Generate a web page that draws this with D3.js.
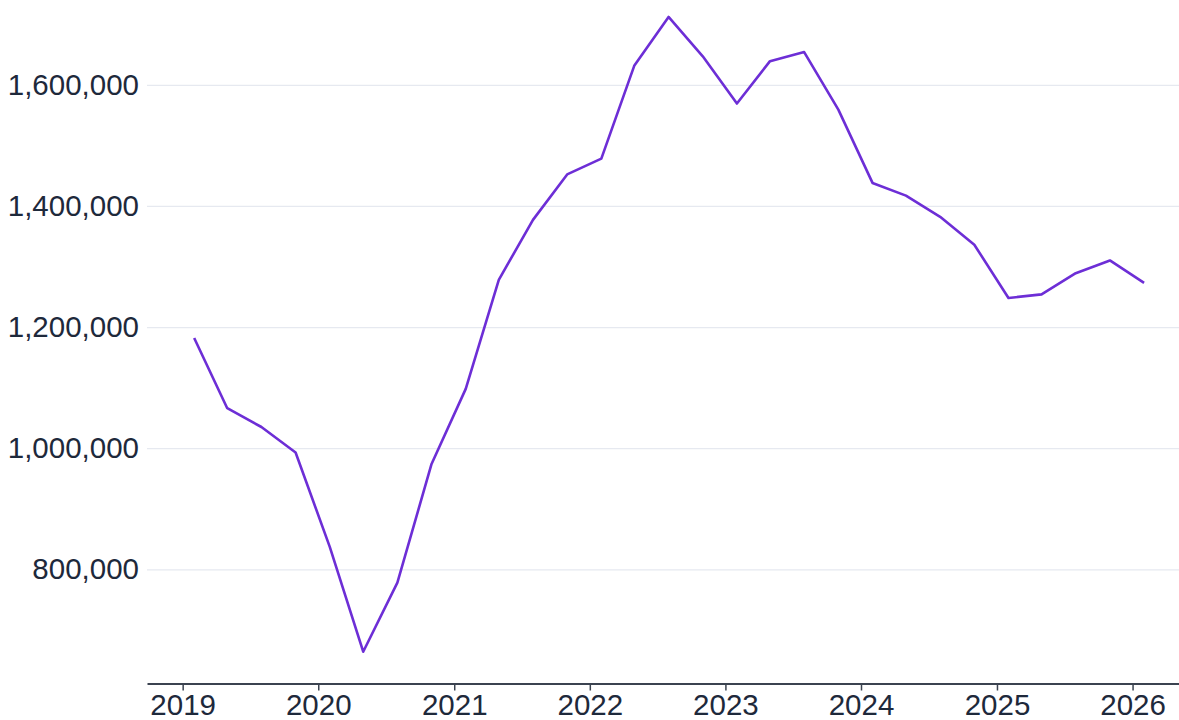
<!DOCTYPE html>
<html>
<head>
<meta charset="utf-8">
<script src="https://cdn.jsdelivr.net/npm/d3@7"></script>
<style>
  html, body { margin: 0; padding: 0; background: #fff; }
  svg { display: block; }
  .tick text { font-family: "Liberation Sans", Arial, Helvetica, sans-serif; fill: #1e293b; }
</style>
</head>
<body>
<div id="chart"></div>
<script>
// Quarterly dates (mid-quarter month)
const dates = [
    "2019-02-01", "2019-05-01", "2019-08-01", "2019-11-01",
    "2020-02-01", "2020-05-01", "2020-08-01", "2020-11-01",
    "2021-02-01", "2021-05-01", "2021-08-01", "2021-11-01",
    "2022-02-01", "2022-05-01", "2022-08-01", "2022-11-01",
    "2023-02-01", "2023-05-01", "2023-08-01", "2023-11-01",
    "2024-02-01", "2024-05-01", "2024-08-01", "2024-11-01",
    "2025-02-01", "2025-05-01", "2025-08-01", "2025-11-01",
    "2026-02-01"
];

// Values
const values = [
    1182000, 1066000, 1035000, 993000,
    837000, 664000, 778000, 974000,
    1098000, 1278000, 1377000, 1452000,
    1478000, 1632000, 1712000, 1647000,
    1569000, 1639000, 1654000, 1559000,
    1438000, 1417000, 1382000, 1336000,
    1248000, 1254000, 1289000, 1310000,
    1273000
];

const yTicks = [800000, 1000000, 1200000, 1400000, 1600000];
const xTickYears = [2019, 2020, 2021, 2022, 2023, 2024, 2025, 2026];

const width = 1179;
const height = 720;
const plotLeft = 147;
const plotRight = 1179;
const plotBottom = 683.5;
const fontSize = "29.5px";

const parseDate = d3.timeParse("%Y-%m-%d");
const data = dates.map((d, i) => ({ date: parseDate(d), value: values[i] }));

const svg = d3.select("#chart")
    .append("svg")
    .attr("width", width)
    .attr("height", height);

// x: time scale, padded so the axis runs past the first and last points
const x = d3.scaleTime()
    .domain([new Date(2018, 8, 27), new Date(2026, 4, 6)])
    .range([plotLeft, plotRight]);

// y: linear, padded below the minimum
const y = d3.scaleLinear()
    .domain([611500, 1740000])
    .range([plotBottom, 0]);

// Gridlines + y labels (no axis line)
const yAxis = svg.append("g")
    .attr("transform", `translate(${plotLeft},0)`)
    .call(d3.axisLeft(y)
        .tickValues(yTicks)
        .tickSize(-(plotRight - plotLeft))
        .tickPadding(8)
        .tickFormat(d3.format(",")));

yAxis.select(".domain").remove();
yAxis.selectAll(".tick line")
    .attr("stroke", "#e6e9f0")
    .attr("stroke-width", 1.2);
yAxis.selectAll(".tick text")
    .style("font-size", fontSize);

// Line
const line = d3.line()
    .x(d => x(d.date))
    .y(d => y(d.value));

svg.append("path")
    .datum(data)
    .attr("fill", "none")
    .attr("stroke", "#6d2ed6")
    .attr("stroke-width", 2.6)
    .attr("stroke-linejoin", "round")
    .attr("d", line);

// x axis
const xAxis = svg.append("g")
    .attr("transform", `translate(0,${plotBottom})`)
    .call(d3.axisBottom(x)
        .tickValues(xTickYears.map(yr => new Date(yr, 0, 1)))
        .tickSize(7)
        .tickSizeOuter(0)
        .tickPadding(4)
        .tickFormat(d3.timeFormat("%Y")));

xAxis.select(".domain")
    .attr("stroke", "#3b4350")
    .attr("stroke-width", 1.8);
xAxis.selectAll(".tick line")
    .attr("stroke", "#3b4350")
    .attr("stroke-width", 1.5);
xAxis.selectAll(".tick text")
    .style("font-size", fontSize);
</script>
</body>
</html>
